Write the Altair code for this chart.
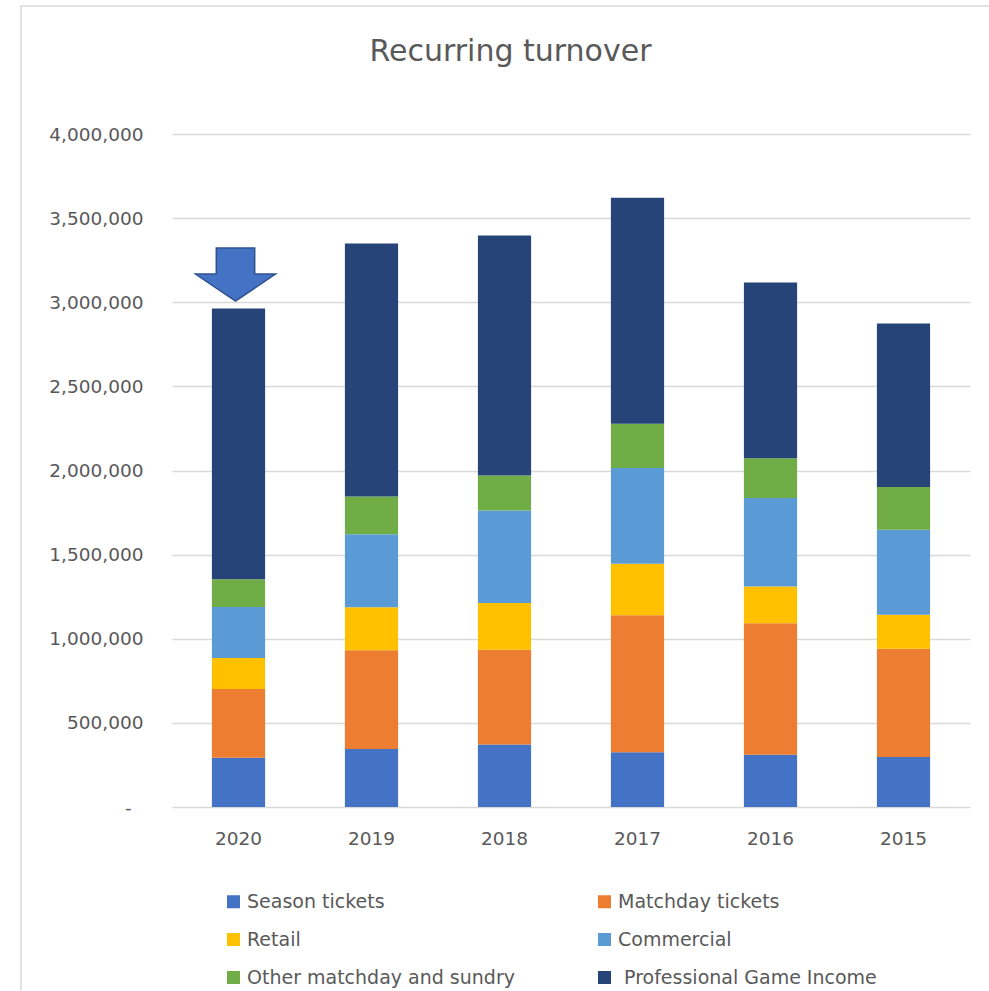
import altair as alt
import pandas as pd

# Recurring turnover by income stream, per season year
years = ["2020", "2019", "2018", "2017", "2016", "2015"]
series = [
    "Season tickets",
    "Matchday tickets",
    "Retail",
    "Commercial",
    "Other matchday and sundry",
    "Professional Game Income",
]
colors = ["#4472C4", "#ED7D31", "#FFC000", "#5B9BD5", "#70AD47", "#264478"]

season_tickets = [293000, 345000, 372000, 325000, 311000, 297000]
matchday_tickets = [408000, 586000, 563000, 814000, 781000, 644000]
retail = [184000, 256000, 278000, 307000, 218000, 202000]
commercial = [303000, 434000, 550000, 569000, 527000, 505000]
other_sundry = [166000, 224000, 207000, 263000, 236000, 254000]
professional_game = [1609000, 1504000, 1427000, 1343000, 1045000, 971000]

y_ticks = [0, 500000, 1000000, 1500000, 2000000, 2500000, 3000000, 3500000, 4000000]

title_text = ["Recurring turnover"]

# highlight arrow over the latest year
arrow_year = ["2020"]
arrow_value = [3165000]

values = [season_tickets, matchday_tickets, retail, commercial, other_sundry, professional_game]
rows = []
for s_idx, (name, vals) in enumerate(zip(series, values)):
    for year, v in zip(years, vals):
        rows.append({"year": year, "series": name, "value": v, "order": s_idx})
df = pd.DataFrame(rows)

# the legend grid fills column by column; list entries so rows read left to right
legend_order = [0, 2, 4, 1, 3, 5]
legend_domain = [series[i] for i in legend_order]
legend_range = [colors[i] for i in legend_order]

FONT = "DejaVu Sans"
GREY = "#595959"
GRID = "#D9D9D9"

# non-breaking spaces guarded by a zero-width space so they survive trimming
NBSP = "\u00a0"
ZWSP = "\u200b"
zero_label = "-" + NBSP * 2 + ZWSP
pgi_label = ZWSP + NBSP + "Professional Game Income"

x_enc = alt.X(
    "year:N",
    sort=years,
    scale=alt.Scale(paddingInner=0.6, paddingOuter=0.3),
    axis=alt.Axis(
        title=None,
        labelAngle=0,
        domain=False,
        ticks=False,
        grid=False,
        labelPadding=22,
        labelFont=FONT,
        labelFontSize=18.5,
        labelColor=GREY,
    ),
)

bars = alt.Chart(df).mark_bar().encode(
    x=x_enc,
    y=alt.Y(
        "value:Q",
        stack="zero",
        scale=alt.Scale(domain=[0, 4000000]),
        axis=alt.Axis(
            title=None,
            values=y_ticks,
            domain=False,
            ticks=False,
            grid=True,
            gridColor=GRID,
            gridWidth=1.4,
            labelPadding=29,
            labelFont=FONT,
            labelFontSize=18.5,
            labelColor=GREY,
            labelExpr=f"datum.value == 0 ? '{zero_label}' : format(datum.value, ',')",
        ),
    ),
    color=alt.Color(
        "series:N",
        scale=alt.Scale(domain=legend_domain, range=legend_range),
        legend=alt.Legend(
            title=None,
            orient="none",
            legendX=52,
            legendY=758,
            columns=2,
            columnPadding=80,
            rowPadding=18,
            padding=0,
            symbolType="square",
            symbolSize=169,
            symbolStrokeWidth=0,
            labelOffset=4,
            labelFont=FONT,
            labelFontSize=19,
            labelColor=GREY,
            labelLimit=400,
            labelExpr=f"datum.label == 'Professional Game Income' ? '{pgi_label}' : datum.label",
        ),
    ),
    order=alt.Order("order:Q", sort="ascending"),
)

arrow_df = pd.DataFrame({"year": arrow_year, "value": arrow_value})
arrow_path = "M -0.48 -0.66 L 0.48 -0.66 L 0.48 -0.01 L 1 -0.01 L 0 0.665 L -1 -0.01 L -0.48 -0.01 Z"
arrow = alt.Chart(arrow_df).mark_point(
    shape=arrow_path,
    filled=True,
    size=6400,
    fill="#4472C4",
    stroke="#2F528F",
    strokeWidth=1.5,
    opacity=1,
    xOffset=-3,
).encode(
    x=alt.X("year:N", sort=years),
    y=alt.Y("value:Q"),
)

# chart title, centred over the chart area
title_df = pd.DataFrame({"text": title_text})
title = alt.Chart(title_df).mark_text(
    font=FONT,
    fontSize=30,
    color=GREY,
    align="center",
    baseline="alphabetic",
).encode(
    text="text:N",
    x=alt.value(338.5),
    y=alt.value(-73),
)

# light chart-area frame along the top and left edges
frame_top = alt.Chart(arrow_df).mark_rule(color=GRID, strokeWidth=1.5).encode(
    x=alt.value(-152), x2=alt.value(817), y=alt.value(-128)
)
frame_left = alt.Chart(arrow_df).mark_rule(color=GRID, strokeWidth=1.5).encode(
    x=alt.value(-151), y=alt.value(-128), y2=alt.value(857)
)

chart = (
    alt.layer(bars, arrow, title, frame_top, frame_left)
    .properties(
        width=798,
        height=673,
        autosize=alt.AutoSizeParams(type="none"),
        padding={"left": 172, "top": 134, "right": 19, "bottom": 184},
        view=alt.ViewBackground(stroke="transparent", strokeWidth=0),
    )
    .configure_view(strokeWidth=0, stroke="transparent")
    .configure_axisX(grid=False)
    .configure(background="white")
)

chart.save("out.html", embed_options={"renderer": "svg", "actions": False})
